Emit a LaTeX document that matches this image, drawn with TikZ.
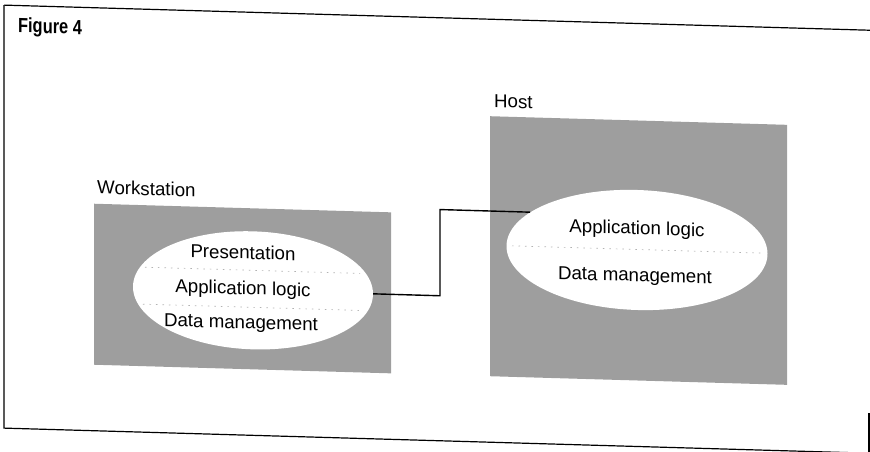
\documentclass[tikz,border=0pt]{standalone}
\usepackage{fontspec}
\setmainfont{Liberation Sans}
\usetikzlibrary{shapes.geometric}
\begin{document}
\begin{tikzpicture}[x=1pt, y=-1pt,
    frame/.style={line width=1.2pt},
    link/.style={line width=1.4pt},
    label text/.style={font=\fontsize{18.7}{22}\selectfont, inner sep=0pt},
    halftone box/.style={fill=halftone, inner sep=0pt},
    layer ellipse/.style={ellipse, fill=white, inner sep=0pt},
    layer sep/.style={draw=gray!60, line width=0.7pt, dash pattern=on 1.5pt off 5pt}]
            \definecolor{halftone}{gray}{0.62}
            \def\boxwidth{297pt}
            \def\shear{-0.029}
            \useasboundingbox (0,0) rectangle (870,452);
            \clip (0,0) rectangle (870,452);
            \begin{scope}[yslant=\shear, transform shape]
            \draw[frame] (4,5) -- (880,5);
            \draw[frame] (4,5) -- (4,428) -- (880,428);
            \draw[frame] (869,388) -- (869,428);
            \node[font=\fontsize{20.5}{24}\selectfont\bfseries, inner sep=0pt, anchor=base west, xscale=0.8] (fig) at (18,32) {Figure 4};
            \node[halftone box, minimum width=\boxwidth, minimum height=161pt] (wsbox) at (242.5,281.5) {};
            \node[label text, anchor=base west] (wslabel) at (97,191) {Workstation};
            \node[layer ellipse, minimum width=240pt, minimum height=118pt] (wsell) at (253,283) {};
            \draw[layer sep] (145,263) -- (360,263);
            \draw[layer sep] (143,300) -- (362,300);
            \node[label text, anchor=base] (wspres) at (243,252) {Presentation};
            \node[label text, anchor=base] (wsapp) at (243,287.5) {Application logic};
            \node[label text, anchor=base] (wsdata) at (241,321.5) {Data management};
            \node[halftone box, minimum width=\boxwidth, minimum height=260pt] (hostbox) at (638.5,232) {};
            \node[label text, anchor=base west] (hostlabel) at (494,93) {Host};
            \node[layer ellipse, minimum width=261pt, minimum height=120pt] (hostell) at (637,231.5) {};
            \draw[layer sep] (512,231) -- (762,231);
            \node[label text, anchor=base] (hostapp) at (637,216) {Application logic};
            \node[label text, anchor=base] (hostdata) at (635,263) {Data management};
            \coordinate (bend) at (440,240);
            \draw[link] (wsell.east) -| (bend) |- (hostell.162);
            \end{scope}
        \end{tikzpicture}
\end{document}
